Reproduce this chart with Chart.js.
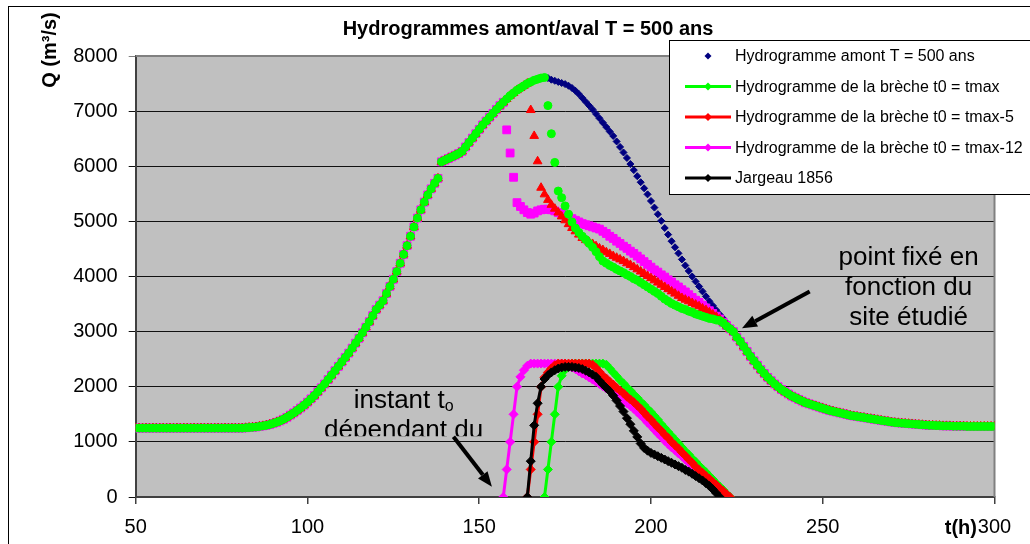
<!DOCTYPE html>
<html>
<head>
<meta charset="utf-8">
<script src="https://cdn.jsdelivr.net/npm/chart.js@4.4.1/dist/chart.umd.min.js"></script>
<style>
  html, body { margin: 0; padding: 0; background: #fff; }
  #wrap { width: 1030px; height: 544px; }
</style>
</head>
<body>
<div id="wrap"><canvas id="c1" width="1030" height="544"></canvas></div>
<script>
// Hydrogrammes amont/aval T = 500 ans — Chart.js
const FONT = "'Liberation Sans', Arial, sans-serif";
Chart.defaults.font.family = FONT;
Chart.defaults.color = '#000';

const COLORS = {
  navy:    '#000080',
  green:   '#00FF00',
  red:     '#FF0000',
  magenta: '#FF00FF',
  black:   '#000000',
  plot:    '#C0C0C0',
  frame:   '#808080',
  axis:    '#404040',
};

const TITLE = 'Hydrogrammes amont/aval T = 500 ans';
const Y_TITLE = 'Q (m³/s)';
const X_TITLE = 't(h)';
const LABELS = [
  'Hydrogramme amont T = 500 ans',
  'Hydrogramme de la brèche t0 = tmax',
  'Hydrogramme de la brèche t0 = tmax-5',
  'Hydrogramme de la brèche t0 = tmax-12',
  'Jargeau 1856',
];
const X_TICKS = [50, 100, 150, 200, 250, 300];
const Y_TICKS = [0, 1000, 2000, 3000, 4000, 5000, 6000, 7000, 8000];

// Hydrogramme amont, pas horaire à partir de t = 50 h
const AMONT_START = 50;
const AMONT = [
  1250,1250,1250,1250,1250,1250,1250,1250,1250,1250, // 50
  1250,1250,1250,1250,1250,1250,1250,1250,1250,1250, // 60
  1250,1250,1250,1250,1250,1250,1250,1250,1250,1250, // 70
  1250,1250,1255,1260,1265,1270,1280,1290,1300,1315, // 80
  1335,1355,1380,1410,1445,1485,1525,1570,1615,1665, // 90
  1720,1780,1840,1910,1980,2050,2130,2210,2290,2370, // 100
  2450,2530,2610,2700,2790,2880,2980,3080,3180,3290, // 110
  3400,3480,3560,3690,3820,3950,4090,4240,4400,4560, // 120
  4730,4900,5060,5210,5350,5480,5590,5690,5780,6080, // 130
  6110,6140,6170,6200,6230,6270,6350,6430,6510,6590, // 140
  6670,6750,6820,6890,6960,7030,7100,7160,7220,7280, // 150
  7330,7380,7420,7460,7500,7530,7560,7580,7600,7610, // 160
  7600,7570,7550,7530,7510,7490,7460,7420,7370,7310, // 170
  7240,7170,7100,7030,6950,6870,6790,6710,6630,6550, // 180
  6450,6350,6250,6150,6040,5930,5820,5710,5600,5490, // 190
  5370,5250,5130,5010,4880,4760,4640,4530,4420,4310, // 200
  4200,4100,4000,3910,3820,3730,3640,3550,3470,3390, // 210
  3310,3240,3160,3080,3000,2900,2820,2730,2640,2550, // 220
  2470,2390,2310,2240,2170,2110,2050,2000,1950,1910, // 230
  1870,1830,1800,1770,1740,1710,1690,1670,1650,1630, // 240
  1610,1590,1570,1555,1540,1525,1510,1495,1480,1470, // 250
  1460,1450,1440,1430,1420,1410,1400,1390,1380,1370, // 260
  1360,1350,1345,1340,1335,1330,1325,1320,1315,1310, // 270
  1305,1300,1300,1295,1295,1290,1290,1290,1285,1285, // 280
  1285,1285,1280,1280,1280,1280,1280,1280,1280,1280, // 290
  1280,                                              // 300
];

// Hydrogrammes aval : chute après la brèche, jusqu'au point fixe
const AVAL_TMAX_START = 170;
const AVAL_TMAX = [
  7100,6590,6070,5550,5430,5280,5130,4990,4880,4800,
  4730,4670,4600,4530,4450,4360,4280,4240,4200,4170,
  4130,4100,4070,4030,4000,3960,3930,3890,3850,3810,
  3770,3730,3690,3640,3590,3550,3510,3480,3450,3420,
  3400,3370,3350,3320,3300,3280,3260,3240,3230,3210,
  3200,3160,3100,3050,
];
const AVAL_TMAX5_START = 165;
const AVAL_TMAX5 = [
  7020,6550,6090,5610,5490,
  5390,5300,5230,5160,5090,5020,4950,4880,4820,4760,
  4700,4660,4620,4590,4550,4510,4480,4440,4410,4370,
  4340,4310,4280,4240,4210,4170,4130,4090,4050,4010,
  3970,3930,3890,3850,3810,3770,3730,3690,3650,3610,
  3580,3550,3520,3490,3460,3420,3390,3350,3310,3270,
  3220,3170,3110,3050,
];
const AVAL_TMAX12_START = 158;
const AVAL_TMAX12 = [
  6660,6240,
  5800,5340,5270,5210,5160,5130,5150,5190,5210,5220,
  5220,5210,5190,5160,5140,5110,5080,5050,5020,4990,
  4960,4940,4920,4900,4880,4860,4820,4780,4730,4690,
  4640,4600,4550,4510,4460,4420,4370,4320,4270,4220,
  4170,4120,4080,4030,3990,3940,3900,3850,3810,3760,
  3720,3670,3620,3570,3530,3480,3430,3380,3330,3280,
  3230,3170,3110,3050,
];

// Débits de brèche
const BRECHE_TMAX_START = 169;
const BRECHE_TMAX = [
  0,
  500,1000,1500,2000,2200,2310,2380,2420,2420,2420,
  2420,2420,2420,2420,2420,2420,2420,2400,2330,2260,
  2190,2120,2060,1990,1930,1860,1800,1730,1670,1600,
  1540,1470,1400,1320,1250,1180,1110,1040,970,900,
  830,770,700,640,570,510,450,380,320,250,
  190,130,60,0,
];
const BRECHE_TMAX5_START = 164;
const BRECHE_TMAX5 = [
  0,500,1000,1500,2000,2170,
  2260,2330,2390,2420,2420,2420,2420,2420,2420,2420,
  2420,2420,2420,2400,2340,2270,2200,2150,2090,2040,
  1980,1930,1880,1820,1770,1720,1660,1600,1530,1460,
  1400,1330,1260,1200,1130,1070,1000,940,880,810,
  750,680,620,550,490,440,380,330,270,220,
  160,110,50,0,
];
const BRECHE_TMAX12_START = 157;
const BRECHE_TMAX12 = [
  0,500,1000,
  1500,2000,2180,2300,2380,2420,2420,2420,2420,2420,
  2420,2420,2420,2420,2420,2420,2390,2350,2320,2280,
  2240,2210,2170,2130,2090,2050,2010,1970,1930,1890,
  1840,1800,1750,1700,1650,1600,1540,1480,1420,1350,
  1290,1220,1150,1090,1020,960,900,850,790,740,
  680,620,570,510,
];
const JARGEAU_START = 164;
const JARGEAU = [
  0,650,1300,1700,2000,2140,
  2210,2260,2300,2330,2350,2360,2360,2360,2350,2340,
  2320,2290,2260,2220,2180,2110,2040,1980,1920,1840,
  1750,1650,1550,1430,1320,1200,1090,970,890,840,
  800,770,740,710,680,650,620,590,560,530,
  490,460,420,380,340,300,250,200,140,70,
  0,
];

function hourly(start, values) {
  return values.map((q, i) => ({ x: start + i, y: q }));
}
const amontPts = hourly(AMONT_START, AMONT);

// aval = amont avant la brèche, valeurs lues ensuite, puis amont après le point fixe
function aval(start, drop) {
  const end = start + drop.length;
  return amontPts.filter(p => p.x < start)
    .concat(hourly(start, drop))
    .concat(amontPts.filter(p => p.x >= end));
}

function markers(label, data, color, style, r, order) {
  return {
    label, data, order,
    showLine: false,
    pointStyle: style,
    pointRadius: r,
    pointBackgroundColor: color,
    pointBorderColor: color,
    pointBorderWidth: 1,
  };
}
function lineSeries(label, data, color, order) {
  return {
    label, data, order,
    showLine: true,
    borderColor: color,
    borderWidth: 3,
    tension: 0,
    pointStyle: 'rectRot',
    pointRadius: 4.5,
    pointBackgroundColor: color,
    pointBorderColor: color,
    pointBorderWidth: 1,
  };
}

const datasets = [
  lineSeries(LABELS[4], hourly(JARGEAU_START, JARGEAU), COLORS.black, 0),
  lineSeries(LABELS[2], hourly(BRECHE_TMAX5_START, BRECHE_TMAX5), COLORS.red, 1),
  lineSeries(LABELS[3], hourly(BRECHE_TMAX12_START, BRECHE_TMAX12), COLORS.magenta, 2),
  lineSeries(LABELS[1], hourly(BRECHE_TMAX_START, BRECHE_TMAX), COLORS.green, 3),
  markers('aval tmax', aval(AVAL_TMAX_START, AVAL_TMAX), COLORS.green, 'circle', 4, 4),
  markers('aval tmax-5', aval(AVAL_TMAX5_START, AVAL_TMAX5), COLORS.red, 'triangle', 5, 5),
  markers('aval tmax-12', aval(AVAL_TMAX12_START, AVAL_TMAX12), COLORS.magenta, 'rect', 5.5, 6),
  markers(LABELS[0], amontPts, COLORS.navy, 'rectRot', 3.5, 7),
];

// Légende (cadre blanc en haut à droite)
const LEGEND = [
  { color: COLORS.navy, line: false },
  { color: COLORS.green, line: true },
  { color: COLORS.red, line: true },
  { color: COLORS.magenta, line: true },
  { color: COLORS.black, line: true },
];

function diamond(ctx, x, y, r, color) {
  ctx.fillStyle = color;
  ctx.beginPath();
  ctx.moveTo(x, y - r); ctx.lineTo(x + r, y); ctx.lineTo(x, y + r); ctx.lineTo(x - r, y);
  ctx.closePath();
  ctx.fill();
}

function arrow(ctx, x1, y1, x2, y2) {
  const a = Math.atan2(y2 - y1, x2 - x1);
  const head = 15, half = 6;
  const bx = x2 - head * Math.cos(a), by = y2 - head * Math.sin(a);
  ctx.strokeStyle = '#000';
  ctx.fillStyle = '#000';
  ctx.lineWidth = 4;
  ctx.beginPath(); ctx.moveTo(x1, y1); ctx.lineTo(bx, by); ctx.stroke();
  ctx.beginPath();
  ctx.moveTo(x2, y2);
  ctx.lineTo(bx + half * Math.sin(a), by - half * Math.cos(a));
  ctx.lineTo(bx - half * Math.sin(a), by + half * Math.cos(a));
  ctx.closePath();
  ctx.fill();
}

const decor = {
  id: 'decor',
  beforeDraw(chart) {
    const { ctx, chartArea: a } = chart;
    ctx.save();
    ctx.fillStyle = '#fff';
    ctx.fillRect(0, 0, chart.width, chart.height);
    ctx.strokeStyle = '#000';
    ctx.lineWidth = 1;
    ctx.strokeRect(8.5, 6.5, 1200, 1000);
    ctx.fillStyle = COLORS.plot;
    ctx.fillRect(a.left, a.top, a.right - a.left, a.bottom - a.top);
    ctx.restore();
  },
  beforeDatasetsDraw(chart) {
    const { ctx, chartArea: a } = chart;
    ctx.save();
    ctx.strokeStyle = COLORS.frame;
    ctx.lineWidth = 2;
    ctx.beginPath();
    ctx.moveTo(a.left, a.top); ctx.lineTo(a.right, a.top); ctx.lineTo(a.right, a.bottom);
    ctx.stroke();
    ctx.restore();
  },
  afterDraw(chart) {
    const { ctx } = chart;
    const sx = chart.scales.x, sy = chart.scales.y;
    const px = v => sx.getPixelForValue(v), py = v => sy.getPixelForValue(v);
    ctx.save();

    // titres
    ctx.fillStyle = '#000';
    ctx.font = 'bold 20px ' + FONT;
    ctx.textAlign = 'center';
    ctx.textBaseline = 'alphabetic';
    ctx.fillText(TITLE, 528, 35);
    ctx.textAlign = 'right';
    ctx.fillText(X_TITLE, 977, 534);
    ctx.save();
    ctx.translate(56, 50);
    ctx.rotate(-Math.PI / 2);
    ctx.textAlign = 'center';
    ctx.fillText(Y_TITLE, 0, 0);
    ctx.restore();

    // point fixé
    ctx.font = '26px ' + FONT;
    ctx.textAlign = 'center';
    ['point fixé en', 'fonction du', 'site étudié'].forEach((s, i) => {
      ctx.fillText(s, px(275), py(4210) + i * 30);
    });
    arrow(ctx, px(246.2), py(3730), px(226.5), py(3060));

    // instant t0
    const cx = px(128), base = py(1610);
    ctx.font = '26px ' + FONT;
    const w1 = ctx.measureText('instant t').width;
    ctx.font = '16px ' + FONT;
    const w2 = ctx.measureText('o').width;
    ctx.textAlign = 'left';
    ctx.font = '26px ' + FONT;
    ctx.fillText('instant t', cx - (w1 + w2) / 2, base);
    ctx.font = '16px ' + FONT;
    ctx.fillText('o', cx - (w1 + w2) / 2 + w1, base + 3);
    ctx.save();
    ctx.beginPath();
    ctx.rect(0, 0, chart.width, base + 28);
    ctx.clip();
    ctx.font = '26px ' + FONT;
    ctx.textAlign = 'center';
    ctx.fillText('dépendant du', cx, base + 30);
    ctx.restore();
    arrow(ctx, px(142.5), py(1094), px(153.7), py(187));

    // légende
    const L = { x: 669.5, y: 40.5, w: 400, h: 154, row: 30.5, y0: 56 };
    ctx.fillStyle = '#fff';
    ctx.fillRect(L.x, L.y, L.w, L.h);
    ctx.strokeStyle = '#000';
    ctx.lineWidth = 1;
    ctx.strokeRect(L.x, L.y, L.w, L.h);
    ctx.font = '16px ' + FONT;
    ctx.textAlign = 'left';
    ctx.textBaseline = 'middle';
    LEGEND.forEach((it, i) => {
      const y = L.y0 + i * L.row;
      if (it.line) {
        ctx.strokeStyle = it.color;
        ctx.lineWidth = 3;
        ctx.beginPath(); ctx.moveTo(685, y); ctx.lineTo(731, y); ctx.stroke();
        diamond(ctx, 708, y, 4, it.color);
      } else {
        diamond(ctx, 708, y, 3.5, it.color);
      }
      ctx.fillStyle = '#000';
      ctx.fillText(LABELS[i], 735, y + 1);
    });
    ctx.restore();
  },
};

new Chart(document.getElementById('c1'), {
  type: 'scatter',
  data: { datasets },
  options: {
    responsive: false,
    animation: false,
    layout: { padding: { left: 65.7, right: 35.5, top: 56, bottom: 7 } },
    plugins: { legend: { display: false }, tooltip: { enabled: false }, title: { display: false } },
    scales: {
      x: {
        type: 'linear', min: 50, max: 300,
        afterFit: s => { s.height = 40; },
        afterBuildTicks: s => { s.ticks = X_TICKS.map(v => ({ value: v })); },
        ticks: { font: { size: 20 }, padding: 11, color: '#000', callback: v => String(v) },
        grid: { drawOnChartArea: false, tickLength: 7, color: COLORS.axis, lineWidth: 1.5 },
        border: { color: COLORS.axis, width: 2 },
      },
      y: {
        min: 0, max: 8000,
        afterFit: s => { s.width = 70; },
        afterBuildTicks: s => { s.ticks = Y_TICKS.map(v => ({ value: v })); },
        ticks: { font: { size: 20 }, padding: 11, color: '#000', callback: v => String(v) },
        grid: { tickLength: 7, color: c => (c.tick && c.tick.value === 8000 ? COLORS.frame : '#111'), lineWidth: 1 },
        border: { color: COLORS.axis, width: 2 },
      },
    },
  },
  plugins: [decor],
});
</script>
</body>
</html>
